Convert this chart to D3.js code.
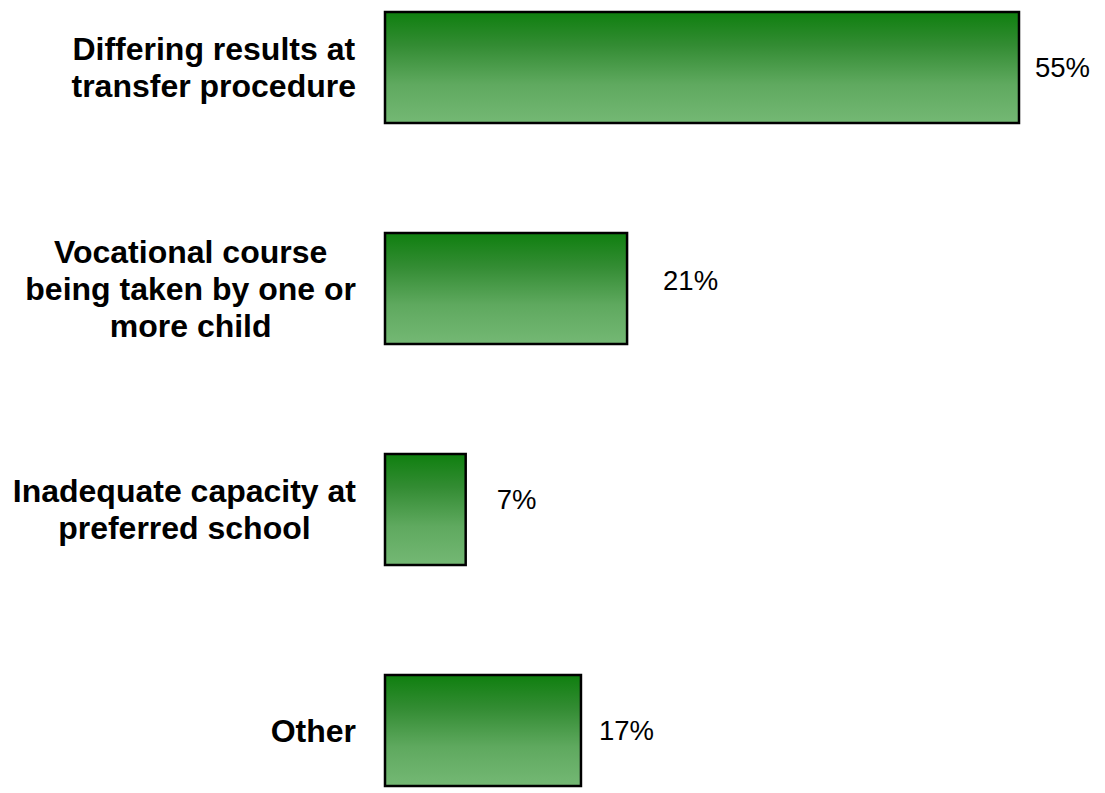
<!DOCTYPE html>
<html>
<head>
<meta charset="utf-8">
<script src="https://cdn.jsdelivr.net/npm/d3@7"></script>
<style>
  html, body { margin: 0; padding: 0; background: #fff; }
  svg { display: block; }
  text { font-family: 'Liberation Sans', Arial, Helvetica, sans-serif; }
</style>
</head>
<body>
<svg id="chart" width="1105" height="793"></svg>
<script>
// ---- data ----
const categories = [
  ["Differing results at", "transfer procedure"],
  ["Vocational course", "being taken by one or", "more child"],
  ["Inadequate capacity at", "preferred school"],
  ["Other"]
];
const values = [55, 21, 7, 17];
const valueLabels = ["55%", "21%", "7%", "17%"];

// ---- layout (manual data-label nudges, as in the source) ----
const labelNudgeX = [16, 36, 31, 18];
const labelNudgeY = [0, -8, -10, 0];

const svg = d3.select("#chart");
const x0 = 385;
const x = d3.scaleLinear().domain([0, 55]).range([x0, 1019]);
const y = d3.scaleBand()
  .domain(d3.range(categories.length))
  .range([12, 786])
  .paddingInner(110 / 221)
  .paddingOuter(0);

const defs = svg.append("defs");
const grad = defs.append("linearGradient")
  .attr("id", "barGrad").attr("x1", 0).attr("y1", 0).attr("x2", 0).attr("y2", 1);
grad.append("stop").attr("offset", "0%").attr("stop-color", "#0f7f0f");
grad.append("stop").attr("offset", "30%").attr("stop-color", "#338c33");
grad.append("stop").attr("offset", "65%").attr("stop-color", "#5fa95f");
grad.append("stop").attr("offset", "100%").attr("stop-color", "#74b874");

svg.append("g").selectAll("rect")
  .data(values)
  .join("rect")
  .attr("x", x0)
  .attr("y", (d, i) => y(i))
  .attr("width", d => x(d) - x0)
  .attr("height", y.bandwidth())
  .attr("fill", "url(#barGrad)")
  .attr("stroke", "#000")
  .attr("stroke-width", 2.5);

// value labels
svg.append("g").selectAll("text")
  .data(values)
  .join("text")
  .attr("x", (d, i) => x(d) + labelNudgeX[i])
  .attr("y", (d, i) => y(i) + y.bandwidth() / 2 + labelNudgeY[i])
  .attr("dy", "0.35em")
  .attr("font-size", 27.5)
  .attr("fill", "#000")
  .text((d, i) => valueLabels[i]);

// category labels: block right-aligned, lines centered within block
const fs = 32, lh = 37, rightEdge = 356;
const catG = svg.append("g");
categories.forEach((lines, i) => {
  const g = catG.append("g");
  const texts = lines.map((ln, j) => g.append("text")
    .attr("font-weight", "bold")
    .attr("font-size", fs)
    .attr("text-anchor", "middle")
    .attr("fill", "#000")
    .text(ln));
  const maxW = d3.max(texts, t => t.node().getComputedTextLength());
  const cx = rightEdge - maxW / 2;
  const cy = y(i) + y.bandwidth() / 2;
  texts.forEach((t, j) => {
    t.attr("x", cx)
     .attr("y", cy + (j - (lines.length - 1) / 2) * lh)
     .attr("dy", "0.35em");
  });
});
</script>
</body>
</html>
